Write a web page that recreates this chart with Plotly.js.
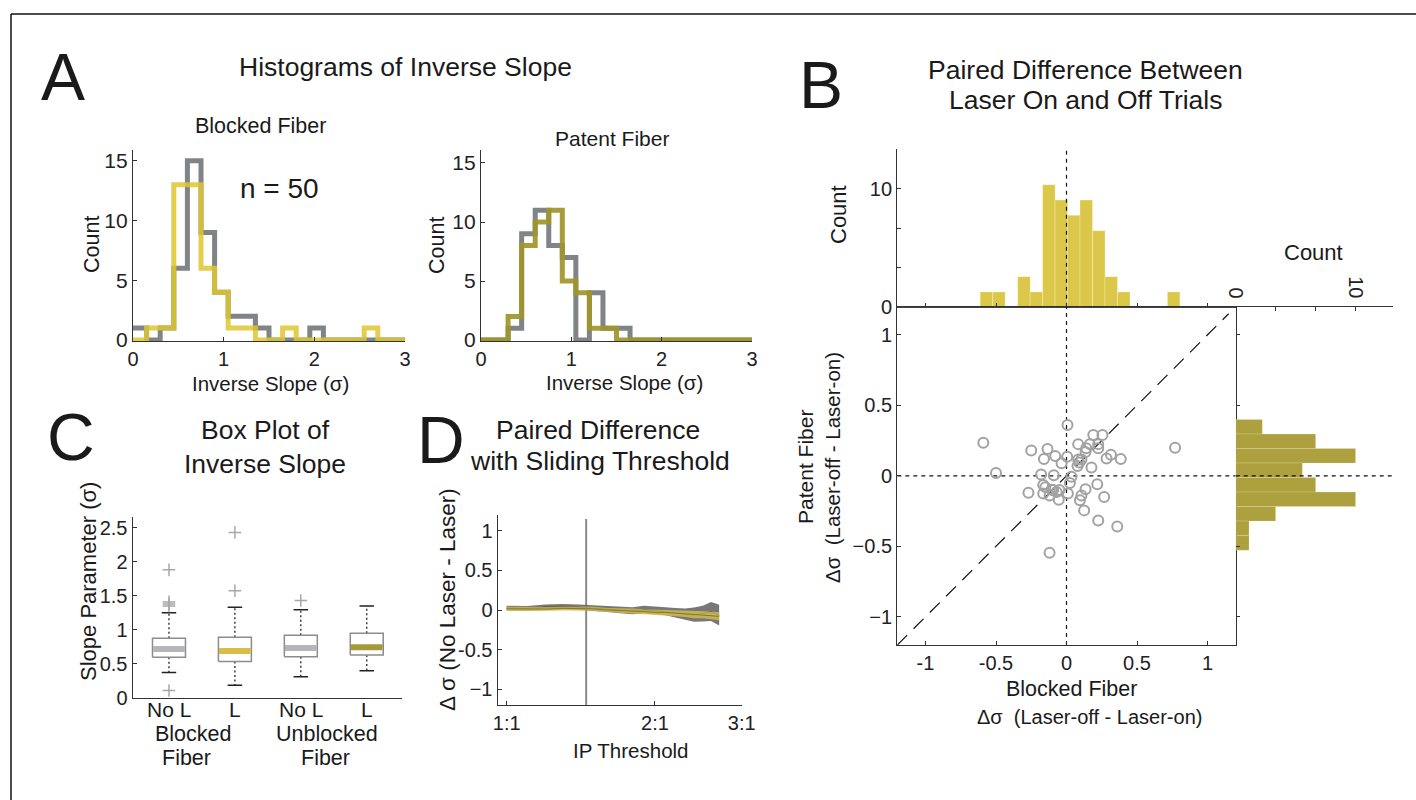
<!DOCTYPE html>
<html><head><meta charset="utf-8">
<script src="https://cdn.plot.ly/plotly-3.0.1.min.js"></script>
<style>html,body{margin:0;padding:0;background:#fff;}#chart{width:1416px;height:800px;}</style>
</head><body><div id="chart"></div>
<script>
// ---------- Panel A: histograms of inverse slope ----------
const histEdges = [0,0.15,0.3,0.45,0.6,0.75,0.9,1.05,1.2,1.35,1.5,1.65,1.8,1.95,2.1,2.25,2.4,2.55,2.7,2.85,3.0];
const blockedNoLaser = [1,0,1,6,15,9,4,2,2,1,0,0,0,1,0,0,0,0,0,0];
const blockedLaser   = [0,1,1,13,13,6,4,1,1,0,0,1,0,0,0,0,0,1,0,0];
const patentNoLaser  = [0,0,1,9,11,8,7,0,4,1,1,0,0,0,0,0,0,0,0,0];
const patentLaser    = [0,0,2,8,10,11,5,4,1,1,0,0,0,0,0,0,0,0,0,0];

// ---------- Panel B: paired differences ----------
const diffBlocked = [-0.59,-0.50,-0.25,-0.135,-0.16,-0.08,-0.035,0.005,0.007,-0.18,-0.09,-0.27,-0.165,-0.15,-0.165,-0.12,-0.095,-0.07,-0.05,-0.055,0.01,0.024,0.035,-0.12,0.083,0.083,0.078,0.106,0.135,0.14,0.165,0.19,0.255,0.225,0.225,0.177,0.284,0.315,0.385,0.77,0.218,0.135,0.106,0.095,0.125,0.267,0.225,0.36,-0.106,0.09];
const diffPatent  = [0.235,0.02,0.18,0.19,0.12,0.14,0.09,0.135,0.36,0.01,0.005,-0.12,-0.065,-0.08,-0.125,-0.14,-0.10,-0.115,-0.10,-0.17,-0.125,-0.05,-0.007,-0.546,0.225,0.116,0.07,0.116,0.17,0.195,0.225,0.29,0.29,0.225,0.195,0.06,0.123,0.15,0.12,0.2,-0.06,-0.095,-0.14,-0.173,-0.245,-0.15,-0.316,-0.36,-0.098,0.095];
const topHistCenters = [-0.568,-0.479,-0.391,-0.302,-0.214,-0.125,-0.037,0.052,0.140,0.229,0.317,0.406,0.494,0.583,0.671,0.760];
const topHistCounts  = [1.25,1.25,0,2.55,1.25,10.35,9.05,7.75,9.05,6.45,2.55,1.25,0,0,0,1.25];
const topHistWidth = 0.0885;
const rightHistCenters = [0.3485,0.2455,0.1425,0.0395,-0.0635,-0.1665,-0.2695,-0.3725,-0.4755];
const rightHistCounts  = [2.22,6.67,10.0,5.56,6.67,10.0,3.33,1.11,1.11];
const rightHistWidth = 0.103;
const diffRange = [-1.2, 1.2];
const diagEnd = 1.15;

// ---------- Panel C: box plot ----------
const boxLabels = ['No L','L','No L','L'];
const boxPos = [1,2,3,4];
const boxQ1  = [0.598,0.534,0.607,0.630];
const boxMed = [0.720,0.690,0.734,0.744];
const boxQ3  = [0.876,0.890,0.920,0.950];
const boxLo  = [0.373,0.188,0.310,0.400];
const boxHi  = [1.250,1.330,1.295,1.350];
const boxMedColors = ['#b6b6ba','#d9be45','#b6b6ba','#a49a38'];
const outX = [1,1,1,1,1,2,2,3];
const outY = [1.35,1.38,1.41,1.88,0.11,1.573,2.43,1.43];

// ---------- Panel D: sliding threshold ----------
const ipThreshold = [1.0,1.1,1.2,1.3,1.4,1.5,1.6,1.7,1.8,1.9,2.0,2.1,2.2,2.3,2.4,2.5,2.6,2.7];
const grayMean   = [0.025,0.02,0.035,0.04,0.035,0.025,0.01,0.0,-0.01,0.005,-0.01,-0.015,-0.035,-0.05,-0.06,-0.045,-0.02,-0.065];
const grayHalf   = [0.03,0.03,0.035,0.035,0.035,0.035,0.035,0.04,0.045,0.05,0.05,0.05,0.06,0.07,0.09,0.10,0.12,0.13];
const yellowMean = [0.015,0.01,0.012,0.02,0.02,0.015,0.0,-0.005,-0.01,-0.02,-0.03,-0.03,-0.04,-0.05,-0.06,-0.06,-0.07,-0.08];
const yellowHalf = [0.025,0.025,0.025,0.025,0.025,0.025,0.025,0.03,0.03,0.03,0.035,0.035,0.04,0.04,0.045,0.045,0.05,0.05];
const chosenThreshold = 1.45;

// ---------- layout helpers ----------
const W = 1416, H = 800;
const FONT = '"Liberation Sans", Arial, Helvetica, sans-serif';
const xd = (a,b) => [a/W, b/W];
const yd = (top,bottom) => [1-bottom/H, 1-top/H];
const AX = '#333';
function axis(extra){
  return Object.assign({showline:true, linecolor:AX, linewidth:1.2, ticks:'inside', ticklen:4,
    tickcolor:AX, tickwidth:1, showgrid:false, zeroline:false, fixedrange:true,
    tickfont:{family:FONT, size:20, color:'#222'}}, extra);
}
const stepY = arr => arr.concat([arr[arr.length-1]]);

const GRAY = 'rgba(118,121,124,0.92)';
const YEL = 'rgba(222,198,48,0.85)';
const OLIVE = 'rgba(160,150,42,0.92)';

const traces = [];
// A left
traces.push({x:histEdges, y:stepY(blockedNoLaser), mode:'lines', line:{shape:'hv', color:GRAY, width:5}, xaxis:'x', yaxis:'y', hoverinfo:'skip'});
traces.push({x:histEdges, y:stepY(blockedLaser), mode:'lines', line:{shape:'hv', color:YEL, width:5}, xaxis:'x', yaxis:'y', hoverinfo:'skip'});
// A right
traces.push({x:histEdges, y:stepY(patentNoLaser), mode:'lines', line:{shape:'hv', color:GRAY, width:5}, xaxis:'x2', yaxis:'y2', hoverinfo:'skip'});
traces.push({x:histEdges, y:stepY(patentLaser), mode:'lines', line:{shape:'hv', color:OLIVE, width:5}, xaxis:'x2', yaxis:'y2', hoverinfo:'skip'});

// B top histogram
traces.push({type:'bar', x:topHistCenters, y:topHistCounts, width:topHistWidth,
  marker:{color:'#dbc84b', line:{color:'rgba(255,250,215,0.6)', width:0.5}}, xaxis:'x3', yaxis:'y3', hoverinfo:'skip'});
// B right histogram
traces.push({type:'bar', orientation:'h', y:rightHistCenters, x:rightHistCounts, width:rightHistWidth,
  marker:{color:'#ada13f', line:{color:'rgba(250,245,210,0.5)', width:0.4}}, xaxis:'x5', yaxis:'y5', hoverinfo:'skip'});
// reference lines
const DASH_S = {color:'#111', width:1.2, dash:'4px,4px'};
traces.push({x:[0,0], y:[0,13.25], mode:'lines', line:DASH_S, xaxis:'x3', yaxis:'y3', hoverinfo:'skip'});
traces.push({x:[0,0], y:diffRange, mode:'lines', line:DASH_S, xaxis:'x4', yaxis:'y4', hoverinfo:'skip'});
traces.push({x:diffRange, y:[0,0], mode:'lines', line:DASH_S, xaxis:'x4', yaxis:'y4', hoverinfo:'skip'});
traces.push({x:[0,13.2], y:[0,0], mode:'lines', line:DASH_S, xaxis:'x5', yaxis:'y5', hoverinfo:'skip'});
traces.push({x:[diffRange[0], diagEnd], y:[diffRange[0], diagEnd], mode:'lines', line:{color:'#111', width:1.2, dash:'14px,9px'}, xaxis:'x4', yaxis:'y4', hoverinfo:'skip'});
// scatter
traces.push({x:diffBlocked, y:diffPatent, mode:'markers', marker:{symbol:'circle-open', size:10, color:'#a2a2a2', line:{width:2, color:'#a2a2a2'}}, xaxis:'x4', yaxis:'y4', hoverinfo:'skip'});

// C box plot built from stats
(function(){
  const hw = 0.25, cw = 0.11, mw = 0.24;
  const bx=[], by=[], wx=[], wy=[], cx=[], cy=[];
  boxPos.forEach((p,i)=>{
    bx.push(p-hw,p+hw,p+hw,p-hw,p-hw,null); by.push(boxQ1[i],boxQ1[i],boxQ3[i],boxQ3[i],boxQ1[i],null);
    wx.push(p,p,null,p,p,null); wy.push(boxQ3[i],boxHi[i],null,boxQ1[i],boxLo[i],null);
    cx.push(p-cw,p+cw,null,p-cw,p+cw,null); cy.push(boxHi[i],boxHi[i],null,boxLo[i],boxLo[i],null);
  });
  traces.push({x:wx, y:wy, mode:'lines', line:{color:'#222', width:1.3, dash:'2px,2.5px'}, xaxis:'x6', yaxis:'y6', hoverinfo:'skip'});
  traces.push({x:cx, y:cy, mode:'lines', line:{color:'#222', width:1.5}, xaxis:'x6', yaxis:'y6', hoverinfo:'skip'});
  traces.push({x:bx, y:by, mode:'lines', line:{color:'#8c8c8c', width:1.5}, xaxis:'x6', yaxis:'y6', hoverinfo:'skip'});
  boxPos.forEach((p,i)=>{
    traces.push({x:[p-mw,p+mw], y:[boxMed[i],boxMed[i]], mode:'lines', line:{color:boxMedColors[i], width:6}, xaxis:'x6', yaxis:'y6', hoverinfo:'skip'});
  });
  traces.push({x:outX, y:outY, mode:'markers', marker:{symbol:'cross-thin-open', size:9, color:'#a8a8a8', line:{color:'#a8a8a8', width:1.5}}, xaxis:'x6', yaxis:'y6', hoverinfo:'skip'});
})();

// D sliding threshold
(function(){
  const gLo = grayMean.map((m,i)=>m-grayHalf[i]), gHi = grayMean.map((m,i)=>m+grayHalf[i]);
  const yLo = yellowMean.map((m,i)=>m-yellowHalf[i]), yHi = yellowMean.map((m,i)=>m+yellowHalf[i]);
  traces.push({x:[chosenThreshold,chosenThreshold], y:[-1.2,1.15], mode:'lines', line:{color:'#8a8a8a', width:2}, xaxis:'x7', yaxis:'y7', hoverinfo:'skip'});
  traces.push({x:ipThreshold, y:gLo, mode:'lines', line:{width:0, color:'rgba(0,0,0,0)'}, xaxis:'x7', yaxis:'y7', hoverinfo:'skip'});
  traces.push({x:ipThreshold, y:gHi, mode:'lines', line:{width:0, color:'rgba(0,0,0,0)'}, fill:'tonexty', fillcolor:'rgba(95,95,95,0.85)', xaxis:'x7', yaxis:'y7', hoverinfo:'skip'});
  traces.push({x:ipThreshold, y:grayMean, mode:'lines', line:{width:1, color:'#2a2a2a'}, xaxis:'x7', yaxis:'y7', hoverinfo:'skip'});
  traces.push({x:ipThreshold, y:yLo, mode:'lines', line:{width:0, color:'rgba(0,0,0,0)'}, xaxis:'x7', yaxis:'y7', hoverinfo:'skip'});
  traces.push({x:ipThreshold, y:yHi, mode:'lines', line:{width:0, color:'rgba(0,0,0,0)'}, fill:'tonexty', fillcolor:'rgba(214,192,80,0.78)', xaxis:'x7', yaxis:'y7', hoverinfo:'skip'});
  traces.push({x:ipThreshold, y:yellowMean, mode:'lines', line:{width:1, color:'#857a2a'}, xaxis:'x7', yaxis:'y7', hoverinfo:'skip'});
})();

function ann(text, x, y, size, opts){
  return Object.assign({text:text, x:x/W, y:1-y/H, xref:'paper', yref:'paper', showarrow:false,
    xanchor:'center', yanchor:'middle', font:{family:FONT, size:size, color:'#1a1a1a'}}, opts||{});
}
const annotations = [
  ann('A', 63, 77, 66), ann('B', 821, 85, 66), ann('C', 71, 437, 66), ann('D', 441, 440, 66),
  ann('Histograms of Inverse Slope', 405, 67, 26.5),
  ann('Blocked Fiber', 260, 126, 21.5), ann('Patent Fiber', 612, 138, 21),
  ann('n = 50', 279, 189, 28),
  ann('Count', 92, 245, 21.5, {textangle:-90}), ann('Count', 437, 245, 21.5, {textangle:-90}),
  ann('Inverse Slope (σ)', 270, 383, 20.5), ann('Inverse Slope (σ)', 624, 382, 20.5),
  ann('Paired Difference Between', 1085, 70, 26.5), ann('Laser On and Off Trials', 1085, 100, 26.5),
  ann('Count', 838, 215, 22, {textangle:-90}), ann('Count', 1313, 253, 22),
  ann('Patent Fiber', 805, 467, 21, {textangle:-90}),
  ann('Δσ  (Laser-off - Laser-on)', 832, 468, 20.5, {textangle:-90}),
  ann('Blocked Fiber', 1071, 689, 21.5), ann('Δσ  (Laser-off - Laser-on)', 1089, 717, 20),
  ann('Box Plot of', 265, 430, 26.5), ann('Inverse Slope', 265, 464, 26.5),
  ann('Slope Parameter (σ)', 88, 582, 22, {textangle:-90}),
  ann('Blocked', 193, 734, 21.5), ann('Fiber', 186, 758, 21.5),
  ann('Unblocked', 327, 734, 21.5), ann('Fiber', 325, 758, 21.5),
  ann('Paired Difference', 598, 430, 26.5), ann('with Sliding Threshold', 600, 461, 26.5),
  ann('Δ σ (No Laser - Laser)', 447, 600, 22.5, {textangle:-90}),
  ann('IP Threshold', 630, 750, 20.5)
];
// C category tick labels placed on the category axis scale
boxPos.forEach((p,i)=>{
  annotations.push({text:boxLabels[i], x:p, xref:'x6', y:1-709/H, yref:'paper', showarrow:false,
    xanchor:'center', yanchor:'middle', font:{family:FONT, size:21, color:'#1a1a1a'}});
});

const AF = {family:FONT,size:20,color:'#222'};
const layout = {
  width:W, height:H, margin:{l:0,r:0,t:0,b:0}, paper_bgcolor:'#fff', plot_bgcolor:'rgba(0,0,0,0)',
  showlegend:false, barmode:'overlay', font:{family:FONT},
  // A left
  xaxis: axis({domain:xd(133,405), range:[0,3], anchor:'y', tickvals:[0,1,2,3], tickfont:AF}),
  yaxis: axis({domain:yd(150,341), range:[-0.08,15.9], anchor:'x', tickvals:[0,5,10,15], tickfont:{family:FONT,size:21,color:'#222'}}),
  // A right
  xaxis2: axis({domain:xd(481,752), range:[0,3], anchor:'y2', tickvals:[0,1,2,3], tickfont:AF}),
  yaxis2: axis({domain:yd(150,341), range:[-0.08,16.1], anchor:'x2', tickvals:[0,5,10,15], tickfont:{family:FONT,size:21,color:'#222'}}),
  // B top hist
  xaxis3: axis({domain:xd(897.3,1235.7), range:diffRange, anchor:'y3', tickvals:[-1,-0.5,0,0.5,1], showticklabels:false, linecolor:'#444'}),
  yaxis3: axis({domain:yd(149.3,306.7), range:[0,13.35], anchor:'x3', tickvals:[0,3.333,6.667,10], ticktext:['0','','','10']}),
  // B scatter
  xaxis4: axis({domain:xd(897.3,1235.7), range:diffRange, anchor:'y4', mirror:true, tickvals:[-1,-0.5,0,0.5,1], ticktext:['-1','-0.5','0','0.5','1']}),
  yaxis4: axis({domain:yd(306.7,645), range:diffRange, anchor:'x4', mirror:true, tickvals:[-1,-0.5,0,0.5,1], ticktext:['−1','−0.5','0','0.5','1']}),
  // B right hist
  xaxis5: axis({domain:xd(1235.7,1392.7), range:[0,13.1], anchor:'y5', side:'top', tickvals:[0,3.333,6.667,10], ticktext:['0','','','10'], tickangle:90}),
  yaxis5: axis({domain:yd(306.7,645), range:diffRange, anchor:'x5', tickvals:[-1,-0.5,0,0.5,1], showticklabels:false, showline:false}),
  // C
  xaxis6: axis({domain:xd(132.7,401.7), range:[0.45,4.53], anchor:'y6', tickvals:boxPos, showticklabels:false, ticks:''}),
  yaxis6: axis({domain:yd(516.7,698), range:[0,2.66], anchor:'x6', tickvals:[0,0.5,1,1.5,2,2.5], ticktext:['0','0.5','1','1.5','2','2.5']}),
  // D
  xaxis7: axis({domain:xd(497.7,741.7), type:'log', range:[Math.log10(0.959), Math.log10(3)], anchor:'y7', tickvals:[1,2,3], ticktext:['1:1','2:1','3:1']}),
  yaxis7: axis({domain:yd(515,705), range:[-1.2,1.2], anchor:'x7', tickvals:[-1,-0.5,0,0.5,1], ticktext:['−1','-0.5','0','0.5','1']}),
  annotations: annotations,
  shapes: [
    {type:'line', xref:'paper', yref:'paper', x0:11/W, x1:1, y0:1-14/H, y1:1-14/H, line:{color:'#111', width:1.5}},
    {type:'line', xref:'paper', yref:'paper', x0:11/W, x1:11/W, y0:0, y1:1-14/H, line:{color:'#111', width:1.5}}
  ]
};
Plotly.newPlot('chart', traces, layout, {staticPlot:true, displayModeBar:false});
</script>
</body></html>
